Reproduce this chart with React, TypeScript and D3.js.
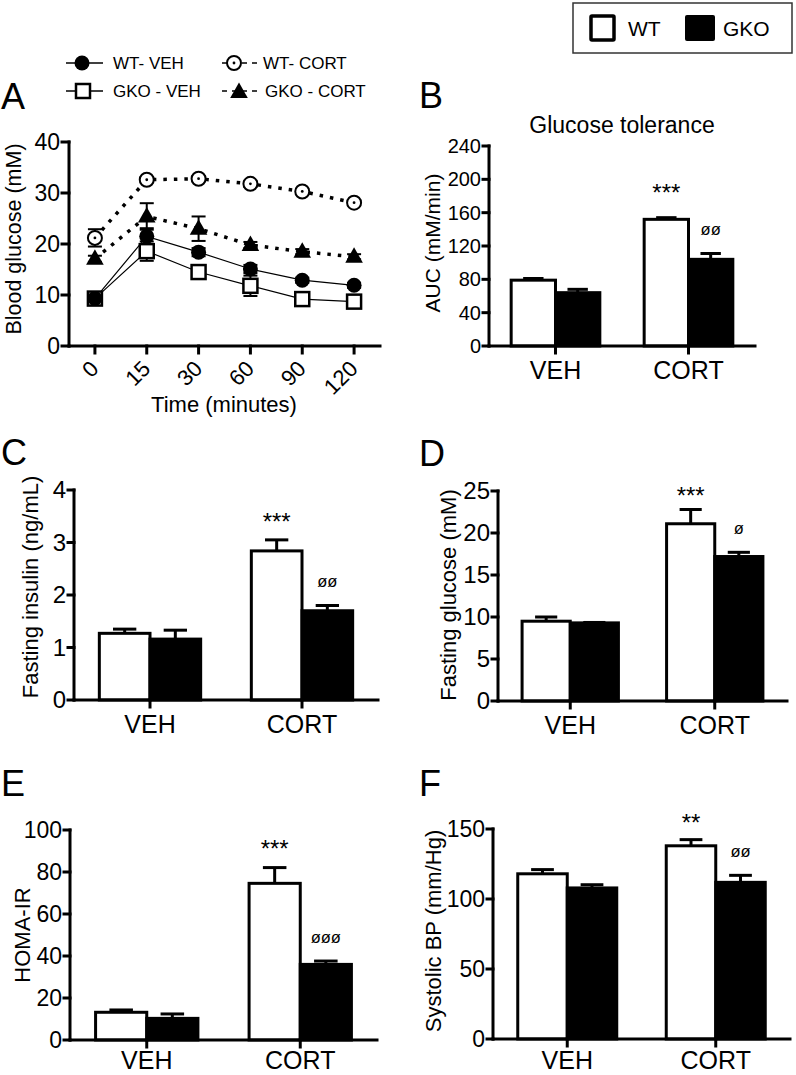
import React from 'react';
import * as d3 from 'd3';

// ---------- Data ----------
const timePoints = ['0', '15', '30', '60', '90', '120'];
const glucoseTicks = [0, 10, 20, 30, 40];
const wtVeh = [9.3, 21.5, 18.4, 15.1, 12.9, 11.9];
const wtVehErr = [0.5, 1.6, 0.8, 0.8, 0.5, 0.5];
const gkoVeh = [9.3, 18.6, 14.5, 11.8, 9.2, 8.7];
const gkoVehErr = [0.5, 1.9, 1.0, 2.0, 0.6, 0.5];
const wtCort = [21.2, 32.6, 32.8, 31.8, 30.3, 28.1];
const wtCortErr = [1.7, 0.5, 0.5, 0.6, 0.5, 0.5];
const gkoCort = [17.1, 25.4, 23.0, 19.8, 18.5, 17.5];
const gkoCortErr = [0.6, 2.6, 2.4, 0.6, 0.5, 0.5];

const groups = ['VEH', 'CORT'];
const genotypes = ['WT', 'GKO'];

const aucTicks = [0, 40, 80, 120, 160, 200, 240];
const aucWT = [79, 152];
const aucWTErr = [2, 2];
const aucGKO = [64, 104];
const aucGKOErr = [4, 7];
const aucSigWT = ['', '***'];
const aucSigGKO = ['', 'øø'];

const insulinTicks = [0, 1, 2, 3, 4];
const insulinWT = [1.27, 2.84];
const insulinWTErr = [0.08, 0.21];
const insulinGKO = [1.16, 1.7];
const insulinGKOErr = [0.17, 0.1];
const insulinSigWT = ['', '***'];
const insulinSigGKO = ['', 'øø'];

const fglucTicks = [0, 5, 10, 15, 20, 25];
const fglucWT = [9.5, 21.1];
const fglucWTErr = [0.5, 1.7];
const fglucGKO = [9.3, 17.2];
const fglucGKOErr = [0.05, 0.5];
const fglucSigWT = ['', '***'];
const fglucSigGKO = ['', 'ø'];

const homaTicks = [0, 20, 40, 60, 80, 100];
const homaWT = [13.2, 74.6];
const homaWTErr = [1.1, 7.5];
const homaGKO = [10.3, 36.0];
const homaGKOErr = [2.1, 1.6];
const homaSigWT = ['', '***'];
const homaSigGKO = ['', 'øøø'];

const bpTicks = [0, 50, 100, 150];
const bpWT = [118, 138];
const bpWTErr = [3, 4.4];
const bpGKO = [107.9, 111.9];
const bpGKOErr = [2.3, 5];
const bpSigWT = ['', '**'];
const bpSigGKO = ['', 'øø'];

const FONT = '"Liberation Sans", Arial, Helvetica, sans-serif';

// ---------- Markers ----------
function Marker({ type, cx, cy }: { type: string; cx: number; cy: number }) {
  if (type === 'circleFilled') return <circle cx={cx} cy={cy} r={7.5} fill="#000" />;
  if (type === 'square')
    return <rect x={cx - 7} y={cy - 7} width={14} height={14} fill="#fff" stroke="#000" strokeWidth={2.5} />;
  if (type === 'circleDot')
    return (
      <g>
        <circle cx={cx} cy={cy} r={7} fill="#fff" stroke="#000" strokeWidth={2} />
        <circle cx={cx} cy={cy} r={1.4} fill="#000" />
      </g>
    );
  return <path d={`M${cx},${cy - 9.5}L${cx + 8.8},${cy + 6}L${cx - 8.8},${cy + 6}Z`} fill="#000" />;
}

// ---------- Panel A ----------
function LinePanel() {
  const left = 69, right = 380, top = 142, bottom = 346;
  const x = d3.scalePoint<string>().domain(timePoints).range([left, right]).padding(0.5);
  const y = d3.scaleLinear().domain([0, 40]).range([bottom, top]);
  const series = [
    { name: 'GKO - VEH', v: gkoVeh, e: gkoVehErr, m: 'square', dotted: false },
    { name: 'WT- VEH', v: wtVeh, e: wtVehErr, m: 'circleFilled', dotted: false },
    { name: 'GKO - CORT', v: gkoCort, e: gkoCortErr, m: 'triangle', dotted: true },
    { name: 'WT- CORT', v: wtCort, e: wtCortErr, m: 'circleDot', dotted: true },
  ];
  const line = d3
    .line<number>()
    .x((_, i) => x(timePoints[i]) as number)
    .y((d) => y(d));
  return (
    <g>
      {series.map((s) => (
        <g key={s.name + 'e'}>
          {s.v.map((v, i) => {
            const cx = x(timePoints[i]) as number;
            return (
              <g key={i} stroke="#000" strokeWidth={2}>
                <line x1={cx} x2={cx} y1={y(v - s.e[i])} y2={y(v + s.e[i])} />
                <line x1={cx - 7} x2={cx + 7} y1={y(v + s.e[i])} y2={y(v + s.e[i])} />
                <line x1={cx - 7} x2={cx + 7} y1={y(v - s.e[i])} y2={y(v - s.e[i])} />
              </g>
            );
          })}
        </g>
      ))}
      {series.map((s) => (
        <path
          key={s.name + 'l'}
          d={line(s.v) || ''}
          fill="none"
          stroke="#000"
          strokeWidth={s.dotted ? 3.5 : 1.2}
          strokeDasharray={s.dotted ? '3.5,7' : undefined}
        />
      ))}
      {series.map((s) => (
        <g key={s.name + 'm'}>
          {s.v.map((v, i) => (
            <Marker key={i} type={s.m} cx={x(timePoints[i]) as number} cy={y(v)} />
          ))}
        </g>
      ))}
      <g stroke="#000" strokeWidth={3} strokeLinecap="square">
        <line x1={left} x2={left} y1={top} y2={bottom} />
        <line x1={left} x2={right} y1={bottom} y2={bottom} />
        {glucoseTicks.map((t) => (
          <line key={t} x1={left - 7} x2={left} y1={y(t)} y2={y(t)} />
        ))}
        {timePoints.map((t) => (
          <line key={t} x1={x(t)} x2={x(t)} y1={bottom} y2={bottom + 7} />
        ))}
      </g>
      {glucoseTicks.map((t) => (
        <text key={t} x={left - 9} y={y(t)} dy="0.35em" textAnchor="end" fontSize={23}>
          {t}
        </text>
      ))}
      {timePoints.map((t) => (
        <text
          key={t}
          textAnchor="end"
          fontSize={22}
          transform={`translate(${(x(t) as number) + 5},${bottom + 24}) rotate(-45)`}
        >
          {t}
        </text>
      ))}
      <text x={224} y={412} textAnchor="middle" fontSize={22}>
        Time (minutes)
      </text>
      <text transform={`translate(21,239) rotate(-90)`} textAnchor="middle" fontSize={21.5}>
        Blood glucose (mM)
      </text>
      <g fontSize={17}>
        <line x1={66} x2={103} y1={63} y2={63} stroke="#000" strokeWidth={1.3} />
        <Marker type="circleFilled" cx={82} cy={63} />
        <text x={113} y={63} dy="0.35em">WT- VEH</text>
        <line x1={66} x2={103} y1={91} y2={91} stroke="#000" strokeWidth={1.3} />
        <Marker type="square" cx={83} cy={91} />
        <text x={113} y={91} dy="0.35em">GKO - VEH</text>
        <line x1={222} x2={258} y1={63} y2={63} stroke="#000" strokeWidth={1.3} strokeDasharray="5,5" />
        <Marker type="circleDot" cx={234} cy={63} />
        <text x={263} y={63} dy="0.35em">WT- CORT</text>
        <line x1={222} x2={262} y1={91} y2={91} stroke="#000" strokeWidth={1.3} strokeDasharray="5,5" />
        <Marker type="triangle" cx={239} cy={92} />
        <text x={265} y={91} dy="0.35em">GKO - CORT</text>
      </g>
    </g>
  );
}

// ---------- Bar panels ----------
type BarProps = {
  left: number; right: number; top: number; bottom: number; max: number; ticks: number[];
  wt: number[]; wtErr: number[]; gko: number[]; gkoErr: number[]; sigWT: string[]; sigGKO: string[];
  tickFs: number; title: string; titleX: number; titleY: number; titleFs: number; sigOffset: number;
  catOffset: number;
};

function BarPanel(p: BarProps) {
  const x = d3.scalePoint<string>().domain(groups).range([p.left, p.right]).padding(0.5);
  const bw = x.step() / 3;
  const sub = d3.scaleBand<string>().domain(genotypes).range([-bw, bw]).padding(0);
  const y = d3.scaleLinear().domain([0, p.max]).range([p.bottom, p.top]);
  const capW = bw * 0.46;
  const series = [
    { g: 'WT', v: p.wt, e: p.wtErr, fill: '#fff', sig: p.sigWT, off: p.sigOffset },
    { g: 'GKO', v: p.gko, e: p.gkoErr, fill: '#000', sig: p.sigGKO, off: 23 },
  ];
  return (
    <g>
      {groups.map((grp, i) => (
        <g key={grp}>
          {series.map((s) => {
            const x0 = (x(grp) as number) + (sub(s.g) as number);
            const cx = x0 + bw / 2;
            const yt = y(s.v[i]);
            const ye = y(s.v[i] + s.e[i]);
            return (
              <g key={s.g}>
                <line x1={cx} x2={cx} y1={yt} y2={ye} stroke="#000" strokeWidth={3} />
                <line x1={cx - capW / 2} x2={cx + capW / 2} y1={ye} y2={ye} stroke="#000" strokeWidth={3} />
                <rect x={x0} y={yt} width={bw} height={p.bottom - yt} fill={s.fill} stroke="#000" strokeWidth={3} />
                {s.sig[i] ? (
                  s.sig[i].includes('*') ? (
                    <text x={cx} y={ye - s.off} dy="0.55em" textAnchor="middle" fontSize={24}>
                      {s.sig[i]}
                    </text>
                  ) : (
                    <text x={cx} y={ye - s.off} dy="0.3em" textAnchor="middle" fontSize={16.5}>
                      {s.sig[i]}
                    </text>
                  )
                ) : null}
              </g>
            );
          })}
        </g>
      ))}
      <g stroke="#000" strokeWidth={3} strokeLinecap="square">
        <line x1={p.left} x2={p.left} y1={p.top} y2={p.bottom} />
        <line x1={p.left} x2={p.right} y1={p.bottom} y2={p.bottom} />
        {p.ticks.map((t) => (
          <line key={t} x1={p.left - 6} x2={p.left} y1={y(t)} y2={y(t)} />
        ))}
        {groups.map((g) => (
          <line key={g} x1={x(g)} x2={x(g)} y1={p.bottom} y2={p.bottom + 7} />
        ))}
      </g>
      {p.ticks.map((t) => (
        <text key={t} x={p.left - 8} y={y(t)} dy="0.35em" textAnchor="end" fontSize={p.tickFs}>
          {t}
        </text>
      ))}
      {groups.map((g) => (
        <text key={g} x={x(g)} y={p.bottom + p.catOffset} textAnchor="middle" fontSize={25}>
          {g}
        </text>
      ))}
      <text
        transform={`translate(${p.titleX},${p.titleY}) rotate(-90)`}
        textAnchor="middle"
        fontSize={p.titleFs}
      >
        {p.title}
      </text>
    </g>
  );
}

export default function App() {
  return (
    <svg
      width={796}
      height={1075}
      viewBox="0 0 796 1075"
      style={{ position: 'absolute', left: 0, top: 0, background: '#fff' }}
      fontFamily={FONT}
    >
      <rect width={796} height={1075} fill="#fff" />
      <rect x={573} y={3} width={219} height={50} fill="none" stroke="#333" strokeWidth={1.5} />
      <rect x={591} y={16} width={23} height={24} fill="#fff" stroke="#000" strokeWidth={3.5} rx={1} />
      <text x={628} y={36} fontSize={21}>WT</text>
      <rect x={685} y={15} width={30} height={26} fill="#000" rx={2} />
      <text x={723} y={36} fontSize={21}>GKO</text>

      <g fontSize={36}>
        <text x={1} y={109}>A</text>
        <text x={419} y={108}>B</text>
        <text x={1} y={465}>C</text>
        <text x={419} y={466}>D</text>
        <text x={1} y={796}>E</text>
        <text x={419} y={796}>F</text>
      </g>

      <LinePanel />

      <text x={622} y={133} textAnchor="middle" fontSize={23}>Glucose tolerance</text>
      <BarPanel
        left={489} right={755} top={146} bottom={346} max={240} ticks={aucTicks}
        wt={aucWT} wtErr={aucWTErr} gko={aucGKO} gkoErr={aucGKOErr} sigWT={aucSigWT} sigGKO={aucSigGKO}
        tickFs={20} title="AUC (mM/min)" titleX={440} titleY={243} titleFs={21} sigOffset={30} catOffset={33}
      />
      <BarPanel
        left={74} right={378} top={490} bottom={700} max={4} ticks={insulinTicks}
        wt={insulinWT} wtErr={insulinWTErr} gko={insulinGKO} gkoErr={insulinGKOErr}
        sigWT={insulinSigWT} sigGKO={insulinSigGKO}
        tickFs={24} title="Fasting insulin (ng/mL)" titleX={38} titleY={587} titleFs={22} sigOffset={23} catOffset={33}
      />
      <BarPanel
        left={498} right={787} top={491} bottom={701} max={25} ticks={fglucTicks}
        wt={fglucWT} wtErr={fglucWTErr} gko={fglucGKO} gkoErr={fglucGKOErr}
        sigWT={fglucSigWT} sigGKO={fglucSigGKO}
        tickFs={24} title="Fasting glucose (mM)" titleX={456} titleY={595} titleFs={22} sigOffset={19} catOffset={33}
      />
      <BarPanel
        left={70} right={377} top={830} bottom={1040} max={100} ticks={homaTicks}
        wt={homaWT} wtErr={homaWTErr} gko={homaGKO} gkoErr={homaGKOErr}
        sigWT={homaSigWT} sigGKO={homaSigGKO}
        tickFs={23} title="HOMA-IR" titleX={30} titleY={935} titleFs={22} sigOffset={24} catOffset={29}
      />
      <BarPanel
        left={493} right={790} top={829} bottom={1039} max={150} ticks={bpTicks}
        wt={bpWT} wtErr={bpWTErr} gko={bpGKO} gkoErr={bpGKOErr} sigWT={bpSigWT} sigGKO={bpSigGKO}
        tickFs={23} title="Systolic BP (mm/Hg)" titleX={441} titleY={931} titleFs={22} sigOffset={22} catOffset={30}
      />
    </svg>
  );
}
